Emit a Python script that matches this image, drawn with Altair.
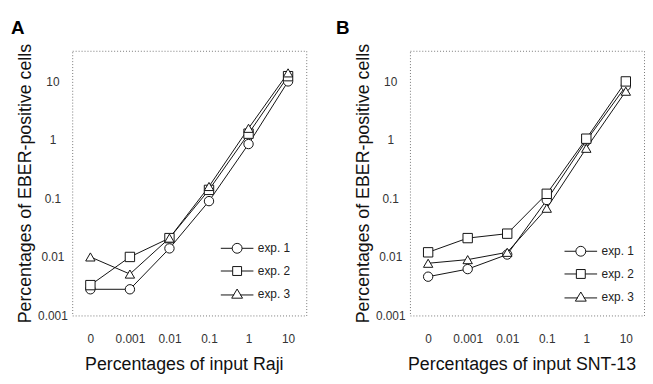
import altair as alt
import pandas as pd

x_labels = ["0", "0.001", "0.01", "0.1", "1", "10"]
series = ["exp. 1", "exp. 2", "exp. 3"]
y_ticks = [0.001, 0.01, 0.1, 1, 10]

# Panel A: input Raji
a_exp1 = [0.0028, 0.0028, 0.014, 0.09, 0.85, 10.0]
a_exp2 = [0.0033, 0.010, 0.021, 0.14, 1.28, 12.3]
a_exp3 = [0.010, 0.0051, 0.021, 0.16, 1.58, 14.0]

# Panel B: input SNT-13
b_exp1 = [0.0046, 0.0062, 0.011, 0.094, 0.97, 8.3]
b_exp2 = [0.012, 0.021, 0.025, 0.12, 1.05, 10.0]
b_exp3 = [0.0078, 0.0090, 0.012, 0.068, 0.72, 6.8]

FONT = "Liberation Sans"
INK = "#111111"

legend_paths = [
    "M-3.3,0L-1,0M1,0L3.3,0M1,0A1,1,0,1,1,-1,0A1,1,0,1,1,1,0Z",
    "M-3.3,0L-0.9,0M0.9,0L3.3,0M-0.9,-0.9L0.9,-0.9L0.9,0.9L-0.9,0.9Z",
    "M-3.3,0.25L-0.6,0.25M0.6,0.25L3.3,0.25M0,-0.95L1.1,0.9L-1.1,0.9Z",
]


def long_df(vals):
    rows = []
    for s, v in zip(series, vals):
        for x, y in zip(x_labels, v):
            rows.append({"x": x, "y": y, "series": s})
    return pd.DataFrame(rows)


def panel(df, letter, letter_dx, xtitle, legx, legy):
    base = alt.Chart(df)
    xenc = alt.X(
        "x:O",
        sort=x_labels,
        scale=alt.Scale(type="point", padding=0.46),
        axis=alt.Axis(
            title=xtitle, labelAngle=0, ticks=False, tickSize=0, domain=False,
            labelPadding=18, labelFontSize=12, labelColor="#333333", labelFont=FONT,
            titleFont=FONT, titleFontSize=18, titleFontWeight="normal", titleColor="#111111",
            titleX=113, titleY=50, titleBaseline="middle", titleAlign="center",
        ),
    )
    yenc = alt.Y(
        "y:Q",
        scale=alt.Scale(type="log", domain=[0.001, 33.4], nice=False),
        axis=alt.Axis(
            values=y_ticks, format="~g", title="Percentages of EBER-positive cells",
            ticks=False, tickSize=0, domain=False, grid=False,
            labelPadding=20, labelAlign="center", labelBaseline="middle",
            labelFontSize=12, labelColor="#333333", labelFont=FONT,
            titleFont=FONT, titleFontSize=18, titleFontWeight="normal", titleColor="#111111",
            titleX=-47, titleY=134, titleAngle=-90, titleBaseline="middle", titleAlign="center",
        ),
    )
    lines = base.mark_line(color=INK, strokeWidth=1).encode(
        x=xenc, y=yenc, detail="series:N"
    )
    pts = base.mark_point(
        filled=True, fill="white", stroke=INK, strokeWidth=1, size=90, opacity=1
    ).encode(
        x=xenc,
        y=yenc,
        shape=alt.Shape(
            "series:N",
            scale=alt.Scale(domain=series, range=["circle", "square", "triangle-up"]),
            legend=None,
        ),
    )
    leg = base.mark_point(
        filled=False, color=INK, strokeWidth=1, size=100, opacity=1
    ).encode(
        shape=alt.Shape(
            "series:N",
            scale=alt.Scale(domain=series, range=legend_paths),
            legend=alt.Legend(
                title=None, orient="none", legendX=legx, legendY=legy,
                direction="vertical", symbolSize=100,
                symbolStrokeColor=INK, symbolStrokeWidth=1, labelOffset=15,
                labelFontSize=12, labelFont=FONT, labelColor="#222222", rowPadding=9,
            ),
        )
    ).transform_filter("false")
    return alt.layer(lines, pts, leg).resolve_scale(shape="independent").properties(
        width=237,
        height=268,
        title=alt.TitleParams(
            letter, anchor="start", frame="group", dx=letter_dx, offset=-10,
            fontSize=19, fontWeight="bold", font=FONT, color="#000000",
            baseline="alphabetic",
        ),
    )


pa = panel(long_df([a_exp1, a_exp2, a_exp3]), "A", -62, "Percentages of input Raji", 161, 194)
pb = panel(long_df([b_exp1, b_exp2, b_exp3]), "B", -75, "Percentages of input SNT-13", 167, 197)

chart = (
    alt.hconcat(pa, pb, spacing=28)
    .properties(padding={"left": 2, "top": 8, "right": 0, "bottom": 0}, background="white")
    .configure_view(stroke="#777777", strokeDash=[1, 2], strokeWidth=1)
)

chart.save("out.html", embed_options={"renderer": "svg", "actions": False})
